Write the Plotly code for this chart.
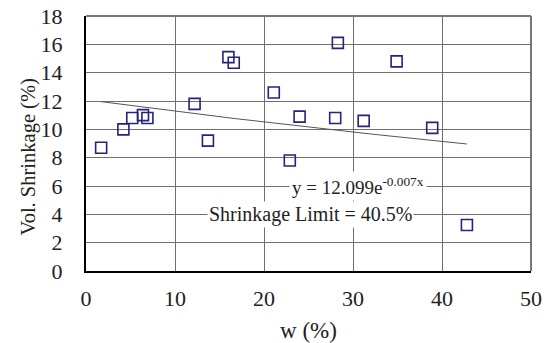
import numpy as np
import plotly.graph_objects as go

# Water content w (%) and volumetric shrinkage (%)
w = [1.7, 4.2, 5.2, 6.4, 6.9, 12.2, 13.7, 16.0, 16.6, 21.1, 22.9, 24.0,
     28.0, 28.3, 31.2, 34.9, 38.9, 42.8]
shrink = [8.7, 10.0, 10.8, 11.0, 10.8, 11.8, 9.2, 15.1, 14.7, 12.6, 7.8, 10.9,
          10.8, 16.1, 10.6, 14.8, 10.1, 3.25]

# Exponential trendline y = a * exp(b x)
fit_a = 12.099
fit_b = -0.007

x_ticks = [0, 10, 20, 30, 40, 50]
y_ticks = [0, 2, 4, 6, 8, 10, 12, 14, 16, 18]

serif = "Liberation Serif"

xt = np.linspace(min(w), max(w), 50)
yt = fit_a * np.exp(fit_b * xt)

fig = go.Figure()
fig.add_trace(go.Scatter(
    x=xt, y=yt, mode="lines",
    line=dict(color="#555555", width=1), hoverinfo="skip", showlegend=False,
))
fig.add_trace(go.Scatter(
    x=w, y=shrink, mode="markers",
    marker=dict(symbol="square-open", size=11, color="#24247a",
                line=dict(width=1.6, color="#24247a")),
    showlegend=False,
))

fig.add_annotation(
    x=30.6, y=6, xref="x", yref="y",
    text="y = 12.099e<sup>-0.007x</sup>", showarrow=False,
    bgcolor="white", borderpad=2,
    font=dict(family=serif, size=19, color="#222"),
)
fig.add_annotation(
    x=25.2, y=4, xref="x", yref="y",
    text="Shrinkage Limit = 40.5%", showarrow=False,
    bgcolor="white", borderpad=1,
    font=dict(family=serif, size=20, color="#222"),
)
# y-axis title, sitting slightly below the plot's vertical centre
fig.add_annotation(
    x=0, y=0.5, xref="paper", yref="paper", xshift=-58, yshift=-14,
    text="Vol. Shrinkage (%)", textangle=-90, showarrow=False,
    xanchor="center", yanchor="middle",
    font=dict(family=serif, size=20.5, color="#222"),
)

fig.update_layout(
    width=549, height=343,
    margin=dict(l=86, r=18, t=16, b=72),
    paper_bgcolor="white", plot_bgcolor="white",
    font=dict(family=serif, size=22, color="#222"),
    xaxis=dict(
        range=[0, 50], tickvals=x_ticks, showgrid=True,
        gridcolor="#6f6f6f", gridwidth=1, zeroline=False,
        showline=True, linecolor="black", linewidth=2, mirror=False,
        ticks="", ticklabelstandoff=7, automargin=False,
        tickfont=dict(family=serif, size=22),
        title=dict(text="w (%)", font=dict(family=serif, size=23), standoff=15),
    ),
    yaxis=dict(
        range=[0, 18], tickvals=y_ticks, showgrid=True,
        gridcolor="#6f6f6f", gridwidth=1, zeroline=False,
        showline=True, linecolor="black", linewidth=2, mirror=False,
        ticks="", ticklabelstandoff=17, automargin=False,
        tickfont=dict(family=serif, size=22),
    ),
    shapes=[
        dict(type="line", xref="paper", yref="paper", x0=0, x1=1, y0=1, y1=1,
             line=dict(color="#777777", width=2)),
        dict(type="line", xref="paper", yref="paper", x0=1, x1=1, y0=0, y1=1,
             line=dict(color="#777777", width=2)),
    ],
)

fig.write_html("out.html")
